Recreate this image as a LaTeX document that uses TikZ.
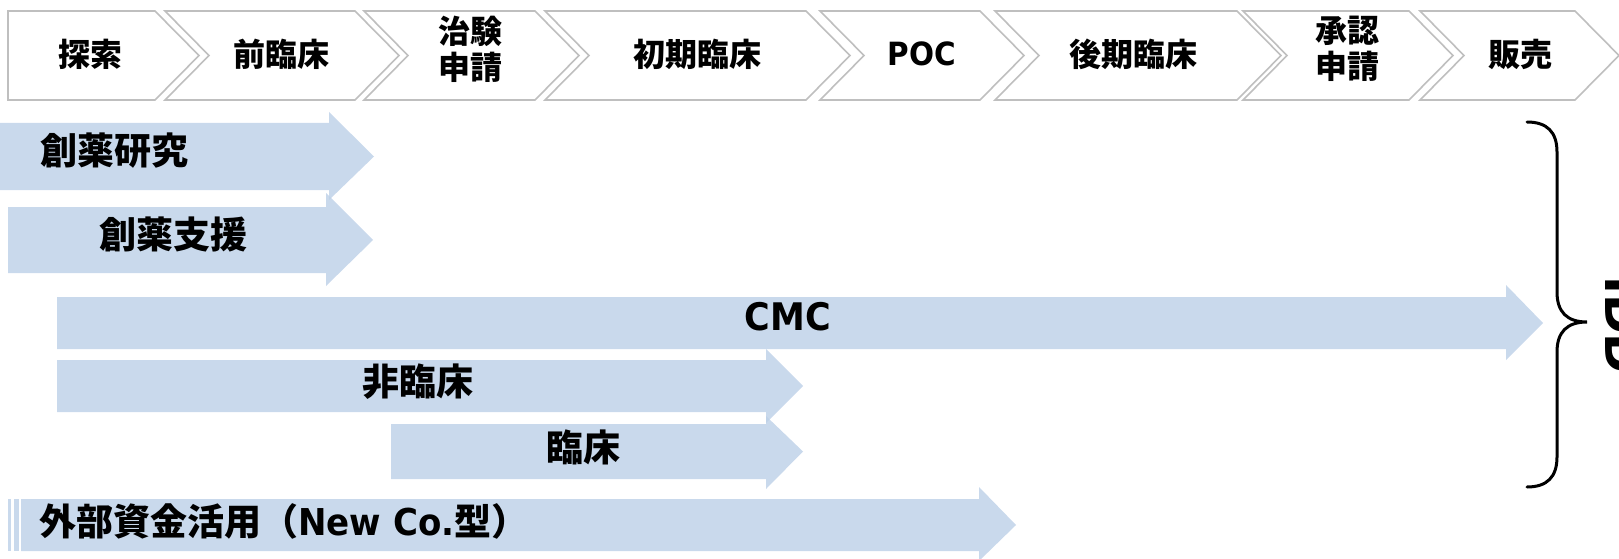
\documentclass[tikz,border=0pt]{standalone}
\usepackage{fontspec}
\newfontfamily\jp{Noto Sans CJK JP}
\newfontfamily\lat{DejaVu Sans}[FakeStretch=0.92]
\newfontfamily\latw{DejaVu Sans}
\definecolor{chevgray}{HTML}{BFBFBF}
\definecolor{arrowblue}{HTML}{BCD0E7}
\newcommand\chevron[2]{\draw[chev] (#1,11) -- (#2,11) -- ({#2+44},55.5) -- (#2,100) -- (#1,100) -- ({#1+44},55.5) -- cycle;}
\newcommand\blkarrow[8]{\fill[blk] (#1,#4) -- (#2,#4) -- (#2,#6) -- (#3,{(#4+#5)/2}) -- (#2,#7) -- (#2,#5) -- (#1,#5) -- cycle;}
\begin{document}
\begin{tikzpicture}[x=1pt,y=-1pt,
  chev/.style={draw=chevgray, line width=1.6pt, fill=white, line join=miter},
  blk/.style={fill=arrowblue, fill opacity=0.8},
  ctext/.style={font=\jp\bfseries\fontsize{32}{36}\selectfont, align=center, inner sep=0pt},
  atext/.style={font=\jp\bfseries\fontsize{37}{40}\selectfont, inner sep=0pt},
  ltext/.style={font=\lat\bfseries\fontsize{38}{40}\selectfont, inner sep=0pt},
]
\useasboundingbox (0,0) rectangle (1619,559);
\clip (0,0) rectangle (1619,559);
% phase chevrons
\draw[chev] (8,11) -- (155,11) -- (199,55.5) -- (155,100) -- (8,100) -- cycle;
\chevron{165}{355}
\chevron{364}{535}
\chevron{545}{806}
\chevron{820}{980}
\chevron{995}{1237}
\chevron{1243}{1409}
\chevron{1420}{1575}
\node[ctext] (p1) at (90,54) {探索};
\node[ctext] (p2) at (281,54) {前臨床};
\node[ctext] (p3) at (470,49) {治験\\申請};
\node[ctext] (p4) at (697,54) {初期臨床};
\node[ctext, font=\lat\bfseries\fontsize{32}{34}\selectfont] (p5) at (922,54) {POC};
\node[ctext] (p6) at (1133,54) {後期臨床};
\node[ctext] (p7) at (1347,49) {承認\\申請};
\node[ctext] (p8) at (1520,54) {販売};
% block arrows: x0, shaft end, tip, ytop, ybot, headtop, headbot
\blkarrow{-2}{329}{374}{123}{190}{112}{200}{}
\blkarrow{8}{326}{373}{207}{273}{193}{286}{}
\blkarrow{57}{1506}{1543}{297}{349}{285}{360}{}
\blkarrow{57}{766}{803}{360}{412}{349}{423}{}
\blkarrow{391}{766}{803}{424}{479}{416}{489}{}
\blkarrow{21}{979}{1016}{499}{551}{487}{561}{}
\fill[blk] (8,499) rectangle (11,551);
\fill[blk] (13.5,499) rectangle (18.5,551);
\node[atext] (a1) at (114,151) {創薬研究};
\node[atext] (a2) at (173,234) {創薬支援};
\node[ltext] (a3) at (788,317) {CMC};
\node[atext] (a4) at (418,382) {非臨床};
\node[atext] (a5) at (583,447) {臨床};
\node[atext, anchor=west] (a6) at (39,521) {外部資金活用（{\lat New Co.}型）};
% brace
\draw[line width=3pt, line cap=round] (1527,122) .. controls (1547,122) and (1557,132) .. (1557,152) -- (1557,292) .. controls (1557,312) and (1567,322) .. (1587,322) .. controls (1567,322) and (1557,332) .. (1557,352) -- (1557,457) .. controls (1557,477) and (1547,487) .. (1527,487);
\node[inner sep=0pt, font=\latw\bfseries\fontsize{48}{50}\selectfont, rotate=-90, anchor=base west] (idd) at (1605,276) {IDD};
\end{tikzpicture}
\end{document}
